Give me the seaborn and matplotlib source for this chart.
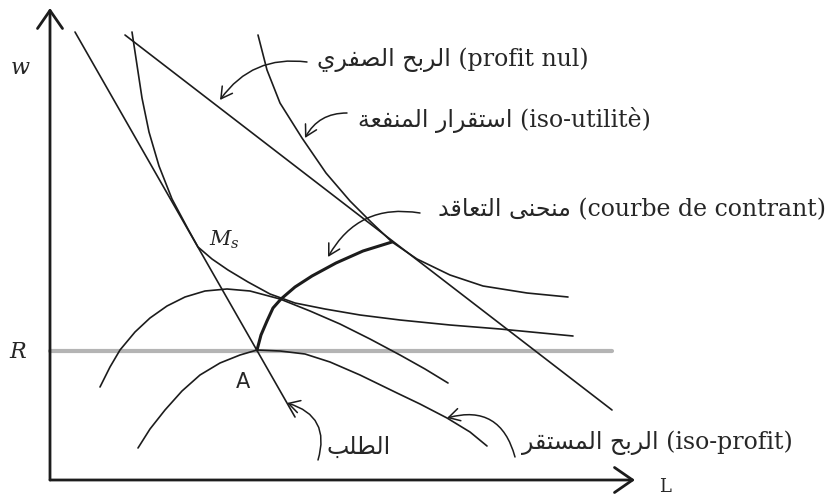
import unicodedata
import matplotlib
matplotlib.use('Agg')
import matplotlib.pyplot as plt
import seaborn as sns

# Diagram coordinates: L to the right, w upwards, origin at the axes corner
demand_L = [25, 245]
demand_w = [448, 63]

zero_profit_L = [75, 562]
zero_profit_w = [445, 70]

reservation_L = [0, 562]
reservation_w = [129, 129]

iso_util_1_L = [82, 87, 92, 99, 109, 122, 138, 148, 162, 178, 198, 220, 245, 275, 310, 350, 400, 450, 523]
iso_util_1_w = [448, 415, 382, 348, 314, 281, 251, 233, 221, 210, 198, 186, 177, 171, 165, 160, 155, 151, 144]

iso_util_2_L = [208, 217, 230, 252, 276, 300, 321, 342, 367, 400, 433, 477, 518]
iso_util_2_w = [445, 410, 377, 342, 307, 279, 258, 238, 221, 205, 194, 187, 183]

iso_profit_1_L = [50, 60, 70, 85, 100, 117, 135, 155, 177, 200, 230, 260, 290, 320, 350, 375, 398]
iso_profit_1_w = [93, 113, 130, 148, 162, 174, 183, 189, 191, 189, 181, 169, 156, 141, 125, 111, 97]

iso_profit_2_L = [88, 100, 115, 132, 150, 170, 190, 207, 230, 255, 280, 310, 347, 370, 397, 420, 437]
iso_profit_2_w = [32, 51, 70, 89, 105, 117, 125, 130, 129, 126, 118, 105, 87, 76, 62, 48, 34]

contract_L = [207, 211, 217, 223, 231, 245, 262, 286, 313, 342]
contract_w = [130, 145, 159, 172, 181, 193, 204, 217, 229, 238]

# labels: arabic, french, text anchor, arrow tail, arrow head, arc
labels = [
    ('الربح الصفري', 'profit nul', (267, 420), (257, 418), (170, 380), 0.3),
    ('استقرار المنفعة', 'iso-utilitè', (308, 360), (297, 367), (255, 342), 0.3),
    ('منحنى التعاقد', 'courbe de contrant', (388, 270), (370, 267), (278, 223), 0.35),
    ('الربح المستقر', 'iso-profit', (472, 37), (465, 23), (397, 62), 0.5),
    ('الطلب', None, (277, 33), (268, 20), (237, 77), 0.5),
]


def shape_ar(text):
    # matplotlib has no arabic shaping, pick the joined forms by hand
    def forms(ch):
        name = unicodedata.name(ch, '')
        out = {}
        for k in ('ISOLATED', 'FINAL', 'INITIAL', 'MEDIAL'):
            try:
                out[k] = unicodedata.lookup(name + ' ' + k + ' FORM')
            except KeyError:
                pass
        return out

    res = []
    for i, ch in enumerate(text):
        f = forms(ch)
        if not f:
            res.append(ch)
            continue
        prev = forms(text[i - 1]) if i > 0 else {}
        nxt = forms(text[i + 1]) if i + 1 < len(text) else {}
        j_prev = 'INITIAL' in prev and 'FINAL' in f
        j_next = 'INITIAL' in f and 'FINAL' in nxt
        if j_prev and j_next:
            res.append(f['MEDIAL'])
        elif j_prev:
            res.append(f['FINAL'])
        elif j_next:
            res.append(f['INITIAL'])
        else:
            res.append(f.get('ISOLATED', ch))
    return ''.join(res[::-1])


sns.set_theme(style='white')
plt.rcParams['font.family'] = ['DejaVu Serif', 'DejaVu Sans']
plt.rcParams['mathtext.fontset'] = 'dejavuserif'

fig = plt.figure(figsize=(8.29, 4.98), dpi=100)
ax = fig.add_axes([0, 0, 1, 1])
ax.set_xlim(-50, 779)
ax.set_ylim(-18, 480)
ax.axis('off')

ink = '#1c1c1c'

sns.lineplot(x=reservation_L, y=reservation_w, color='#b4b4b4', linewidth=3, ax=ax)
for xs, ys in [(demand_L, demand_w), (zero_profit_L, zero_profit_w),
               (iso_util_1_L, iso_util_1_w), (iso_util_2_L, iso_util_2_w),
               (iso_profit_1_L, iso_profit_1_w), (iso_profit_2_L, iso_profit_2_w)]:
    sns.lineplot(x=xs, y=ys, sort=False, estimator=None, color=ink, linewidth=1.2, ax=ax)
sns.lineplot(x=contract_L, y=contract_w, sort=False, estimator=None, color=ink, linewidth=2.2, ax=ax)

# the two axes with open arrow heads
axis_arrow = dict(arrowstyle='->,head_length=1.3,head_width=0.9', color=ink, lw=2,
                  shrinkA=0, shrinkB=0, mutation_scale=10)
ax.annotate('', xy=(0, 472), xytext=(0, 0), arrowprops=axis_arrow)
ax.annotate('', xy=(585, 0), xytext=(0, 0), arrowprops=axis_arrow)

ax.text(-30, 412, '$w$', fontsize=16, ha='center', va='center')
ax.text(-32, 128, '$R$', fontsize=16, ha='center', va='center')
ax.text(615, -7, 'L', fontsize=13, ha='center', va='center')
ax.text(174, 240, '$M_s$', fontsize=15, ha='center', va='center')
ax.text(193, 98, 'A', fontsize=15, ha='center', va='center', family='DejaVu Sans')

for ar, fr, pos, tail, head, rad in labels:
    s = shape_ar(ar)
    if fr:
        s = s + ' (' + fr + ')'
    ax.text(pos[0], pos[1], s, fontsize=17, ha='left', va='center')
    ax.annotate('', xy=head, xytext=tail,
                arrowprops=dict(arrowstyle='->,head_length=0.8,head_width=0.45',
                                connectionstyle='arc3,rad=%s' % rad, color=ink, lw=1.1,
                                shrinkA=0, shrinkB=0, mutation_scale=10))

fig.savefig('out.png', dpi=100)
